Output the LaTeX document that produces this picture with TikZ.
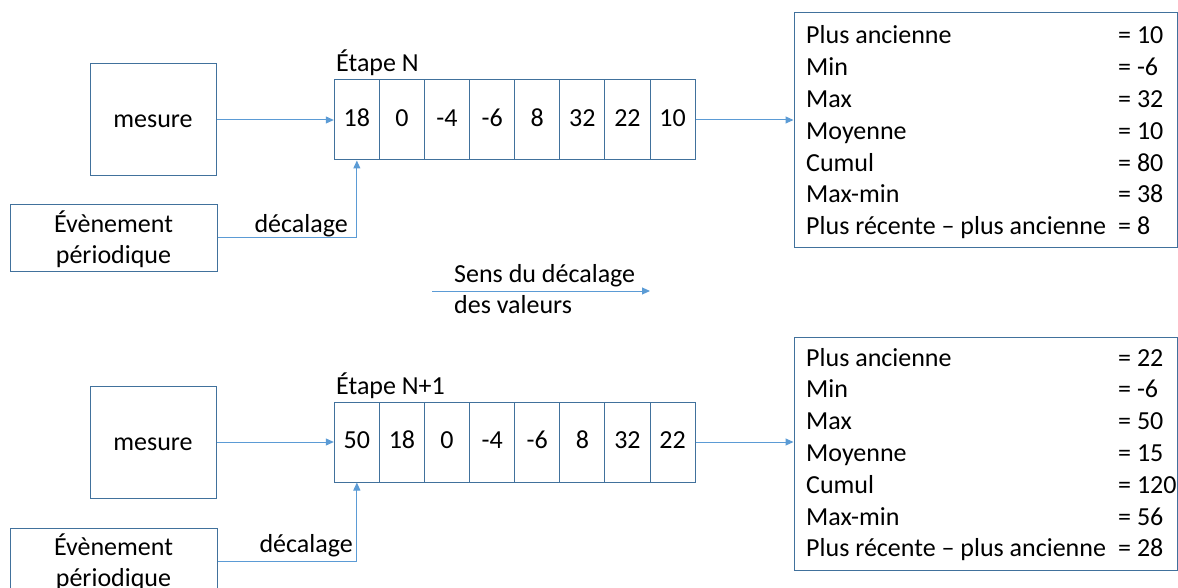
\documentclass[tikz,border=0pt]{standalone}
\usepackage{fontspec}
\setmainfont{Carlito}
\usetikzlibrary{arrows.meta}
\definecolor{boxc}{HTML}{41719C}
\definecolor{arrc}{HTML}{5B9BD5}
\tikzset{
  every node/.style={font=\fontsize{26}{31}\selectfont, text=black},
  box/.style={draw=boxc, line width=1pt, inner sep=0pt, align=center},
  fix/.style={text height=21pt, text depth=3pt},
  cell/.style={box, text height=18pt, text depth=5pt, minimum width=45.1pt, minimum height=80pt},
  arr/.style={draw=arrc, line width=1pt, -{Triangle[length=8pt,width=7pt]}},
  txt/.style={inner sep=0pt, anchor=west, fix},
}
\begin{document}
\begin{tikzpicture}[x=1pt,y=-1pt]
\useasboundingbox (0,0) rectangle (1178,588);
\clip (0,0) rectangle (1178,588);
% ---------- top (Etape N)
\node[box, text height=20pt, text depth=4pt, minimum width=126pt, minimum height=112pt] (mes1) at (153,120) {mesure};
\node[box, minimum width=207pt, minimum height=66pt, text depth=2pt] (ev1) at (113.5,238) {Évènement\\périodique};
\node[txt] (et1) at (336,63) {Étape N};
\foreach \v [count=\i] in {18,0,-4,-6,8,32,22,10} {
  \node[cell] (c1-\i) at ({334.3+45.1*(\i-0.5)},120) {\v};
}
\node[box, minimum width=383pt, minimum height=235pt] (st1) at (985.5,130.5) {};
\foreach \l/\v [count=\i] in {Plus ancienne/10, Min/-6, Max/32, Moyenne/10, Cumul/80, Max-min/38, Plus récente -- plus ancienne/8} {
  \node[txt] (s1l\i) at (806,{35+31.8*(\i-1)}) {\l};
  \node[txt] (s1v\i) at (1118,{35+31.8*(\i-1)}) {= \v};
}
\draw[arr] (mes1.east) -- (c1-1.west);
\draw[arr] (ev1.east) -| (c1-1.south);
\node[txt, anchor=east] (d1) at (348,224) {décalage};
\draw[arr] (c1-8.east) -- (c1-8.east -| st1.west);
% ---------- middle
\coordinate (sa) at (432,291);
\coordinate (sb) at (650,291);
\draw[arr] (sa) -- (sb);
\node[txt] (sens1) at (454,273) {Sens du décalage};
\node[txt] (sens2) at (454,304) {des valeurs};
% ---------- bottom (Etape N+1)
\node[box, text height=20pt, text depth=4pt, minimum width=126pt, minimum height=112pt] (mes2) at (153,442) {mesure};
\node[box, minimum width=207pt, minimum height=66pt, text depth=2pt] (ev2) at (113.5,561) {Évènement\\périodique};
\node[txt] (et2) at (336,385) {Étape N+1};
\foreach \v [count=\i] in {50,18,0,-4,-6,8,32,22} {
  \node[cell] (c2-\i) at ({334.3+45.1*(\i-0.5)},442) {\v};
}
\node[box, minimum width=383pt, minimum height=233pt] (st2) at (985.5,453.5) {};
\foreach \l/\v [count=\i] in {Plus ancienne/22, Min/-6, Max/50, Moyenne/15, Cumul/120, Max-min/56, Plus récente -- plus ancienne/28} {
  \node[txt] (s2l\i) at (806,{357+31.8*(\i-1)}) {\l};
  \node[txt] (s2v\i) at (1118,{357+31.8*(\i-1)}) {= \v};
}
\draw[arr] (mes2.east) -- (c2-1.west);
\draw[arr] (ev2.east) -| (c2-1.south);
\node[txt, anchor=east] (d2) at (353,543) {décalage};
\draw[arr] (c2-8.east) -- (c2-8.east -| st2.west);
\end{tikzpicture}
\end{document}
